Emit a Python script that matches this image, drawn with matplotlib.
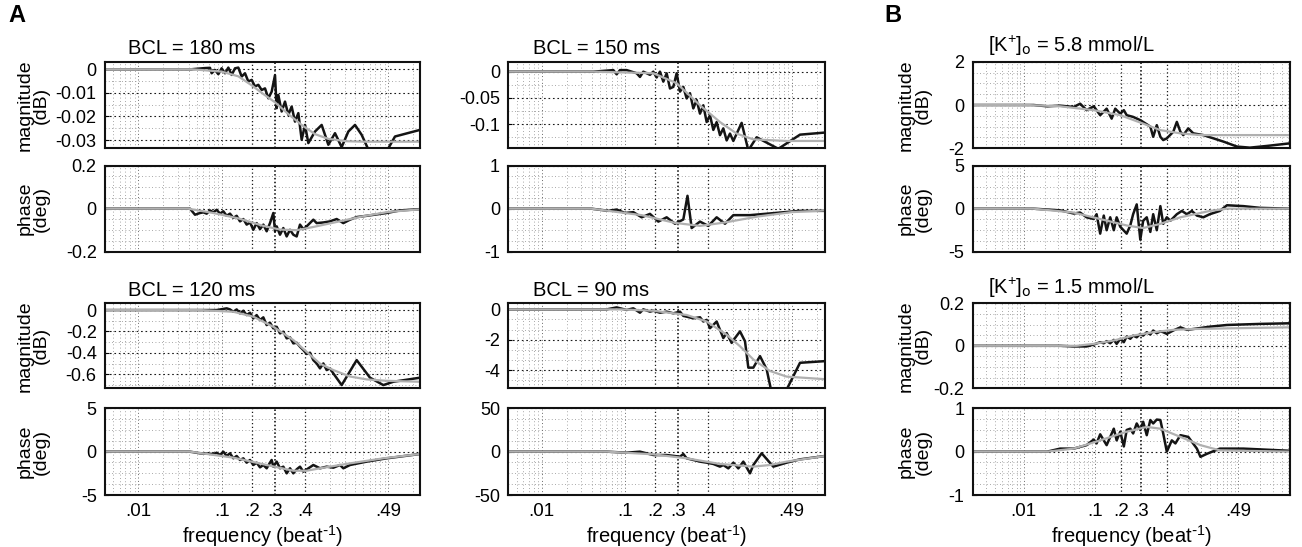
import numpy as np
import matplotlib
matplotlib.use('Agg')
import matplotlib.pyplot as plt
from matplotlib.ticker import FixedLocator, FixedFormatter, NullLocator, NullFormatter, MultipleLocator

plt.rcParams['font.family'] = ['Liberation Sans', 'DejaVu Sans']
plt.rcParams['axes.unicode_minus'] = False
plt.rcParams['mathtext.default'] = 'regular'

# ---------------- data (x = log10 frequency, as placed on the log axis) ----------------
# Panel A, BCL = 180 ms
a180_mag_x = [-2.40, -1.36, -1.20, -1.14, -1.12, -1.08, -1.04, -1.00, -0.96, -0.92, -0.88, -0.84, -0.80, -0.76, -0.72,
              -0.68, -0.64, -0.60, -0.56, -0.52, -0.48, -0.44, -0.40, -0.36, -0.34, -0.32, -0.28, -0.24, -0.20, -0.16,
              -0.12, -0.08, -0.04, 0.00, 0.04, 0.12, 0.20, 0.28, 0.36, 0.44, 0.52, 0.60, 0.68, 0.76, 0.84, 0.96, 1.08, 1.38]
a180_mag_y = [0, 0, 0.0005, 0.0006, -0.0017, -0.0003, -0.0021, 0.0004, -0.0017, 0.0007, -0.0024, 0.0004, 0.0007, -0.0031,
              -0.0017, -0.0052, -0.0045, -0.0073, -0.0066, -0.0088, -0.0081, -0.0123, -0.0095, -0.0025, -0.0165, -0.0109,
              -0.0179, -0.0137, -0.0193, -0.0158, -0.0222, -0.0186, -0.0299, -0.0236, -0.0313, -0.0264, -0.0236, -0.0320,
              -0.0271, -0.0330, -0.0264, -0.0236, -0.0278, -0.034, -0.038, -0.036, -0.0285, -0.0257]
a180_mag_fit_x = [-2.40, -1.36, -1.00, -0.80, -0.64, -0.50, -0.36, -0.20, -0.04, 0.12, 0.28, 0.50, 0.70, 1.38]
a180_mag_fit_y = [0, 0, -0.001, -0.003, -0.0068, -0.0105, -0.0140, -0.0190, -0.0236, -0.0275, -0.0295, -0.0305, -0.0307, -0.0307]

a180_ph_x = [-2.40, -1.38, -1.32, -1.26, -1.22, -1.18, -1.14, -1.10, -1.06, -1.02, -0.98, -0.94, -0.90, -0.86, -0.82,
             -0.78, -0.74, -0.70, -0.66, -0.62, -0.58, -0.54, -0.50, -0.46, -0.42, -0.38, -0.36, -0.34, -0.30, -0.26,
             -0.22, -0.18, -0.14, -0.10, -0.06, -0.02, 0.02, 0.10, 0.14, 0.22, 0.30, 0.38, 0.46, 0.54, 0.62, 0.74, 0.98, 1.14, 1.38]
a180_ph_y = [0, 0, -0.028, -0.020, -0.017, -0.023, -0.008, -0.017, -0.005, -0.023, -0.012, -0.033, -0.023, -0.043, -0.033,
             -0.059, -0.048, -0.074, -0.064, -0.098, -0.067, -0.095, -0.074, -0.105, -0.067, -0.020, -0.105, -0.082, -0.121,
             -0.090, -0.129, -0.098, -0.121, -0.129, -0.074, -0.095, -0.082, -0.051, -0.067, -0.064, -0.059, -0.048, -0.067,
             -0.051, -0.039, -0.033, -0.020, -0.008, -0.002]
a180_ph_fit_x = [-2.40, -1.40, -1.10, -0.80, -0.50, -0.30, -0.10, 0.10, 0.40, 0.70, 1.00, 1.38]
a180_ph_fit_y = [0, 0, -0.02, -0.045, -0.08, -0.097, -0.1, -0.085, -0.06, -0.035, -0.015, -0.003]

# Panel A, BCL = 150 ms
a150_mag_x = [-2.40, -1.38, -1.14, -1.10, -1.06, -0.98, -0.86, -0.82, -0.78, -0.70, -0.66, -0.62, -0.58, -0.54, -0.50,
              -0.46, -0.42, -0.38, -0.34, -0.30, -0.26, -0.22, -0.18, -0.14, -0.10, -0.06, -0.02, 0.02, 0.06, 0.10,
              0.14, 0.18, 0.22, 0.26, 0.30, 0.40, 0.48, 0.58, 0.84, 1.10, 1.40]
a150_mag_y = [0, 0, 0.003, -0.005, 0.003, 0.003, -0.003, -0.010, 0.0, -0.006, 0.0, -0.011, 0.0, -0.019, -0.003,
              -0.032, -0.029, -0.003, -0.038, -0.029, -0.051, -0.041, -0.070, -0.054, -0.080, -0.064, -0.096, -0.083,
              -0.111, -0.096, -0.121, -0.108, -0.131, -0.118, -0.132, -0.0975, -0.15, -0.125, -0.147, -0.120, -0.116]
a150_mag_fit_x = [-2.40, -1.38, -0.66, -0.38, -0.10, 0.14, 0.34, 0.54, 0.94, 1.40]
a150_mag_fit_y = [0, 0, -0.003, -0.022, -0.064, -0.096, -0.118, -0.129, -0.132, -0.132]

a150_ph_x = [-2.40, -1.40, -1.20, -1.10, -1.00, -0.90, -0.80, -0.70, -0.60, -0.50, -0.40, -0.30, -0.25, -0.20, -0.10,
             0.00, 0.10, 0.20, 0.30, 0.50, 0.80, 1.10, 1.40]
a150_ph_y = [0, 0, -0.05, -0.02, -0.10, -0.08, -0.20, -0.12, -0.30, -0.20, -0.35, -0.25, 0.30, -0.45, -0.30,
             -0.40, -0.20, -0.35, -0.15, -0.15, -0.10, -0.05, -0.05]
a150_ph_fit_x = [-2.40, -1.40, -0.80, -0.40, -0.10, 0.20, 0.60, 1.00, 1.40]
a150_ph_fit_y = [0, 0, -0.15, -0.33, -0.40, -0.32, -0.18, -0.08, -0.04]

# Panel A, BCL = 120 ms
a120_mag_x = [-2.40, -1.06, -0.94, -0.90, -0.86, -0.82, -0.78, -0.74, -0.70, -0.66, -0.62, -0.58, -0.54, -0.50, -0.46,
              -0.42, -0.38, -0.34, -0.30, -0.26, -0.22, -0.18, -0.14, -0.10, -0.06, -0.02, 0.02, 0.06, 0.10, 0.14,
              0.18, 0.22, 0.26, 0.30, 0.34, 0.44, 0.62, 0.78, 0.94, 1.06, 1.38]
a120_mag_y = [0, 0, 0.016, 0.006, -0.016, 0.006, -0.031, -0.006, -0.047, -0.025, -0.078, -0.047, -0.093, -0.068, -0.14,
              -0.118, -0.171, -0.156, -0.218, -0.202, -0.264, -0.255, -0.311, -0.305, -0.342, -0.373, -0.41, -0.398,
              -0.467, -0.498, -0.544, -0.498, -0.56, -0.544, -0.591, -0.70, -0.467, -0.631, -0.70, -0.669, -0.631]
a120_mag_fit_x = [-2.40, -1.26, -0.86, -0.62, -0.38, -0.14, 0.02, 0.18, 0.34, 0.54, 0.74, 0.98, 1.38]
a120_mag_fit_y = [0, 0, -0.016, -0.062, -0.156, -0.28, -0.39, -0.50, -0.56, -0.62, -0.647, -0.66, -0.669]

a120_ph_x = [-2.40, -1.38, -1.26, -1.10, -1.06, -1.02, -0.98, -0.94, -0.90, -0.86, -0.82, -0.78, -0.74, -0.70, -0.66,
             -0.62, -0.58, -0.54, -0.50, -0.46, -0.42, -0.40, -0.38, -0.34, -0.30, -0.26, -0.22, -0.18, -0.14, -0.10,
             -0.06, -0.02, 0.10, 0.18, 0.26, 0.34, 0.42, 0.46, 0.54, 0.74, 0.98, 1.38]
a120_ph_y = [0, 0, -0.19, -0.27, -0.12, -0.38, 0.0, -0.5, -0.19, -0.77, -0.5, -0.96, -0.77, -1.27, -0.96,
             -1.54, -1.27, -1.81, -1.54, -1.92, -1.27, -0.96, -1.73, -1.15, -1.92, -1.73, -2.5, -1.92, -2.5, -2.04,
             -1.73, -2.31, -1.54, -1.92, -1.73, -1.85, -1.54, -1.92, -1.54, -1.15, -0.77, -0.27]
a120_ph_fit_x = [-2.40, -1.38, -0.86, -0.46, -0.14, 0.02, 0.18, 0.54, 0.94, 1.38]
a120_ph_fit_y = [0, 0, -0.69, -1.54, -2.2, -2.2, -1.92, -1.35, -0.77, -0.27]

# Panel A, BCL = 90 ms
a90_mag_x = [-2.40, -1.22, -1.10, -0.98, -0.90, -0.82, -0.78, -0.70, -0.66, -0.58, -0.50, -0.42, -0.34, -0.30, -0.26,
             -0.18, -0.10, -0.06, -0.02, 0.02, 0.06, 0.10, 0.14, 0.18, 0.22, 0.28, 0.32, 0.38, 0.44, 0.48,
             0.54, 0.62, 0.70, 0.76, 0.92, 1.10, 1.40]
a90_mag_y = [0, 0, 0.13, -0.04, 0.07, -0.22, 0.0, -0.15, -0.09, -0.22, -0.15, -0.26, -0.15, -0.43, -0.48,
             -0.59, -0.52, -0.80, -0.69, -1.24, -1.02, -0.80, -1.35, -1.89, -1.56, -2.21, -1.89, -1.45, -2.10, -3.84,
             -3.84, -3.08, -3.95, -5.5, -5.5, -3.52, -3.41]
a90_mag_fit_x = [-2.40, -1.06, -0.66, -0.26, -0.02, 0.22, 0.38, 0.54, 0.74, 0.94, 1.40]
a90_mag_fit_y = [0, 0, -0.09, -0.37, -0.8, -1.67, -2.43, -3.3, -4.06, -4.43, -4.6]

a90_ph_x = [-2.40, -1.22, -0.98, -0.82, -0.66, -0.50, -0.34, -0.30, -0.26, -0.18, -0.10, -0.02, 0.06, 0.14, 0.18,
            0.24, 0.30, 0.36, 0.42, 0.50, 0.54, 0.64, 0.78, 0.94, 1.10, 1.40]
a90_ph_y = [0, 0, -1.2, 0, -3.9, -3.9, -5.8, -2.7, -7.7, -9.6, -11.5, -12.7, -14.2, -17.3, -15.4,
            -19.3, -12.7, -19.3, -11.5, -25, -15.4, -1.9, -17.3, -12.7, -8.9, -5.0]
a90_ph_fit_x = [-2.40, -1.22, -0.66, -0.26, 0.14, 0.54, 0.74, 0.94, 1.40]
a90_ph_fit_y = [0, 0, -3.1, -7.7, -14.2, -17.3, -15.4, -11.5, -5.0]

# Panel B, [K+]o = 5.8 mmol/L
b58_mag_x = [-2.71, -1.86, -1.67, -1.49, -1.30, -1.21, -1.12, -1.02, -0.93, -0.84, -0.77, -0.72, -0.65, -0.60, -0.56,
             -0.47, -0.37, -0.28, -0.23, -0.19, -0.14, -0.09, -0.05, 0.00, 0.09, 0.14, 0.19, 0.23, 0.30, 0.37,
             0.51, 0.65, 0.79, 0.98, 1.16, 1.40, 1.72]
b58_mag_y = [0, 0, -0.06, -0.03, -0.09, 0.06, -0.24, -0.06, -0.47, -0.17, -0.63, -0.17, -0.40, -0.24, -0.47,
             -0.55, -0.70, -0.89, -1.0, -1.47, -0.93, -1.47, -1.62, -1.54, -1.24, -0.78, -1.24, -1.39, -1.08, -1.31,
             -1.39, -1.54, -1.69, -1.92, -1.97, -1.89, -1.77]
b58_mag_fit_x = [-2.71, -1.95, -1.49, -1.02, -0.65, -0.33, -0.09, 0.19, 0.47, 1.72]
b58_mag_fit_y = [0, 0, -0.06, -0.24, -0.47, -0.86, -1.16, -1.31, -1.39, -1.39]

b58_ph_x = [-2.71, -1.86, -1.49, -1.30, -1.21, -1.12, -1.02, -0.98, -0.93, -0.88, -0.84, -0.79, -0.74, -0.70, -0.65,
            -0.56, -0.51, -0.47, -0.42, -0.37, -0.33, -0.28, -0.23, -0.19, -0.14, -0.09, -0.05, 0.00, 0.05, 0.14,
            0.21, 0.28, 0.35, 0.42, 0.51, 0.60, 0.74, 0.84, 1.07, 1.30, 1.72]
b58_ph_y = [0, 0, -0.19, -0.56, -0.45, -1.0, -1.2, -0.64, -2.9, -0.8, -2.5, -1.0, -2.5, -1.0, -2.1,
            -2.9, -1.95, -0.64, 0.5, -3.6, -1.4, -1.0, -2.7, -0.64, -2.5, 0.3, -1.76, -1.0, -1.4, -0.64,
            -0.26, -0.64, -0.26, -0.8, -1.0, -0.64, -0.26, 0.4, 0.3, 0.1, 0.0]
b58_ph_fit_x = [-2.71, -1.86, -1.30, -0.93, -0.56, -0.33, -0.09, 0.19, 0.60, 0.84, 1.72]
b58_ph_fit_y = [0, 0, -0.45, -1.2, -1.95, -2.25, -1.76, -1.0, -0.26, 0, 0]

# Panel B, [K+]o = 1.5 mmol/L
b15_mag_x = [-2.71, -1.49, -1.30, -1.12, -1.02, -0.93, -0.88, -0.84, -0.79, -0.74, -0.70, -0.65, -0.60, -0.56, -0.51,
             -0.47, -0.42, -0.37, -0.33, -0.28, -0.23, -0.19, -0.14, -0.09, -0.05, 0.00, 0.09, 0.19, 0.28, 0.37,
             0.60, 0.84, 1.30, 1.72]
b15_mag_y = [0, 0, -0.003, -0.003, 0.006, 0.017, 0.012, 0.022, 0.012, 0.028, 0.009, 0.033, 0.017, 0.044, 0.033,
             0.048, 0.040, 0.056, 0.048, 0.064, 0.053, 0.072, 0.059, 0.068, 0.064, 0.056, 0.072, 0.087, 0.075, 0.079,
             0.090, 0.098, 0.103, 0.106]
b15_mag_fit_x = [-2.71, -1.26, -1.02, -0.74, -0.47, -0.19, 0.09, 0.37, 0.84, 1.72]
b15_mag_fit_y = [0, 0, 0.009, 0.025, 0.048, 0.064, 0.075, 0.079, 0.082, 0.087]

b15_ph_x = [-2.71, -1.67, -1.49, -1.30, -1.21, -1.12, -1.02, -0.98, -0.93, -0.88, -0.84, -0.79, -0.74, -0.70, -0.65,
            -0.60, -0.56, -0.51, -0.47, -0.42, -0.37, -0.33, -0.28, -0.23, -0.19, -0.14, -0.09, -0.05, 0.00, 0.07,
            0.12, 0.19, 0.30, 0.42, 0.47, 0.56, 0.74, 1.07, 1.72]
b15_ph_y = [0, 0, 0.07, 0.07, 0.11, 0.15, 0.28, 0.19, 0.40, 0.26, 0.15, 0.34, 0.53, 0.26, 0.46,
            0.12, 0.50, 0.53, 0.42, 0.65, 0.50, 0.69, 0.38, 0.73, 0.65, 0.74, 0.73, 0.42, 0.0, 0.26,
            0.19, 0.38, 0.34, 0.07, -0.12, -0.05, 0.07, 0.07, 0.02]
b15_ph_fit_x = [-2.71, -1.67, -1.30, -0.93, -0.56, -0.28, -0.09, 0.19, 0.47, 0.74, 1.72]
b15_ph_fit_y = [0, 0, 0.07, 0.26, 0.46, 0.57, 0.53, 0.34, 0.15, 0.03, 0.0]

# tick positions on the frequency axis (log10 units) and their labels
freq_tick_pos = [-2.0, -1.0, -0.64, -0.36, 0.0, 1.0]
freq_tick_lab = ['.01', '.1', '.2', '.3', '.4', '.49']

titles = ['BCL = 180 ms', 'BCL = 150 ms', 'BCL = 120 ms', 'BCL = 90 ms',
          r'[K$^{+}$]$_{\rm o}$ = 5.8 mmol/L', r'[K$^{+}$]$_{\rm o}$ = 1.5 mmol/L']

# ---------------- layout ----------------
W, H = 1302, 547
fig = plt.figure(figsize=(W / 100, H / 100), dpi=100)

col_left = [105, 508.3, 972.7]
col_w = [315, 316.7, 317.3]
row_tb = [(61.7, 148.3), (165.7, 251.7), (303.3, 388.3), (408.3, 495.0)]
col_xlim = [(-2.40, 1.38), (-2.40, 1.40), (-2.71, 1.72)]

# (col, row, black x, black y, fit x, fit y, ylim, yticks, yticklabels, minor step, title)
panels = [
    (0, 0, a180_mag_x, a180_mag_y, a180_mag_fit_x, a180_mag_fit_y, (-0.0335, 0.0032), [0, -0.01, -0.02, -0.03],
     ['0', '-0.01', '-0.02', '-0.03'], 0.005, titles[0]),
    (0, 1, a180_ph_x, a180_ph_y, a180_ph_fit_x, a180_ph_fit_y, (-0.2, 0.2), [0.2, 0, -0.2], ['0.2', '0', '-0.2'], 0.05, None),
    (1, 0, a150_mag_x, a150_mag_y, a150_mag_fit_x, a150_mag_fit_y, (-0.146, 0.019), [0, -0.05, -0.1],
     ['0', '-0.05', '-0.1'], 0.025, titles[1]),
    (1, 1, a150_ph_x, a150_ph_y, a150_ph_fit_x, a150_ph_fit_y, (-1, 1), [1, 0, -1], ['1', '0', '-1'], 0.25, None),
    (0, 2, a120_mag_x, a120_mag_y, a120_mag_fit_x, a120_mag_fit_y, (-0.73, 0.063), [0, -0.2, -0.4, -0.6],
     ['0', '-0.2', '-0.4', '-0.6'], 0.1, titles[2]),
    (0, 3, a120_ph_x, a120_ph_y, a120_ph_fit_x, a120_ph_fit_y, (-5, 5), [5, 0, -5], ['5', '0', '-5'], 1.25, None),
    (1, 2, a90_mag_x, a90_mag_y, a90_mag_fit_x, a90_mag_fit_y, (-5.2, 0.4), [0, -2, -4], ['0', '-2', '-4'], 2 / 3, titles[3]),
    (1, 3, a90_ph_x, a90_ph_y, a90_ph_fit_x, a90_ph_fit_y, (-50, 50), [50, 0, -50], ['50', '0', '-50'], 12.5, None),
    (2, 0, b58_mag_x, b58_mag_y, b58_mag_fit_x, b58_mag_fit_y, (-2, 2), [2, 0, -2], ['2', '0', '-2'], 0.5, titles[4]),
    (2, 1, b58_ph_x, b58_ph_y, b58_ph_fit_x, b58_ph_fit_y, (-5, 5), [5, 0, -5], ['5', '0', '-5'], 1.25, None),
    (2, 2, b15_mag_x, b15_mag_y, b15_mag_fit_x, b15_mag_fit_y, (-0.2, 0.2), [0.2, 0, -0.2], ['0.2', '0', '-0.2'], 0.05, titles[5]),
    (2, 3, b15_ph_x, b15_ph_y, b15_ph_fit_x, b15_ph_fit_y, (-1, 1), [1, 0, -1], ['1', '0', '-1'], 0.25, None),
]

title_dx = [0.073, 0.079, 0.048]
ylab_dx = [-72 / 315, None, -58 / 317]

for (c, r, bx, by, gx, gy, ylim, yt, ytl, ystep, title) in panels:
    top, bot = row_tb[r]
    ax = fig.add_axes([col_left[c] / W, 1 - bot / H, col_w[c] / W, (bot - top) / H])
    ax.set_xscale('log')
    lo, hi = col_xlim[c]
    ax.set_xlim(10 ** lo, 10 ** hi)
    ax.set_ylim(*ylim)

    # vertical grid: log-decade minor lines (none inside the .1-.4 decade) and the labelled frequencies
    for dec in range(-4, 3):
        if dec == -1:
            continue
        for k in range(2, 10):
            v = k * 10.0 ** dec
            if 10 ** lo < v < 10 ** hi:
                ax.axvline(v, color='0.55', lw=0.6, ls=(0, (1, 3)), zorder=0.5)
    for p, lab in zip(freq_tick_pos, freq_tick_lab):
        if lab in ('.2', '.4'):
            ax.axvline(10 ** p, color='0.1', lw=0.9, ls=(0, (1, 2)), zorder=0.6)
        elif lab == '.3':
            ax.axvline(10 ** p, color='black', lw=1.1, ls=(0, (1, 1.5)), zorder=0.6)
        else:
            ax.axvline(10 ** p, color='0.4', lw=0.7, ls=(0, (1, 2.5)), zorder=0.6)

    ax.xaxis.set_major_locator(FixedLocator([10 ** p for p in freq_tick_pos]))
    ax.xaxis.set_major_formatter(FixedFormatter(freq_tick_lab))
    ax.xaxis.set_minor_locator(NullLocator())
    ax.xaxis.set_minor_formatter(NullFormatter())
    ax.tick_params(axis='x', which='major', direction='in', length=0, pad=6, labelsize=13.5,
                   labelbottom=(r == 3))

    ax.yaxis.set_major_locator(FixedLocator(yt))
    ax.yaxis.set_major_formatter(FixedFormatter(ytl))
    ax.yaxis.set_minor_locator(MultipleLocator(ystep))
    ax.tick_params(axis='y', which='major', direction='in', length=3, pad=6, labelsize=13)
    ax.tick_params(axis='y', which='minor', length=0)
    ax.grid(axis='y', which='major', color='0.1', lw=0.8, ls=(0, (1.5, 2.5)))
    ax.grid(axis='y', which='minor', color='0.55', lw=0.6, ls=(0, (1, 3)))
    ax.set_axisbelow(True)

    ax.plot([10 ** v for v in bx], by, color='#141414', lw=1.8, zorder=3, solid_joinstyle='round')
    ax.plot([10 ** v for v in gx], gy, color='#b0b0b0', lw=1.6, zorder=4)

    for s in ax.spines.values():
        s.set_linewidth(1.5)
        s.set_color('#111111')
        s.set_zorder(5)

    if title:
        ax.text(title_dx[c], 1.04, title, transform=ax.transAxes, ha='left', va='bottom', fontsize=14.5)

    if ylab_dx[c] is not None:
        lab = 'magnitude\n(dB)' if r in (0, 2) else 'phase\n(deg)'
        ax.set_ylabel(lab, fontsize=14, va='center', linespacing=0.95)
        ax.yaxis.set_label_coords(ylab_dx[c], 0.5)

    if r == 3:
        ax.set_xlabel(r'frequency (beat$^{\text{-}1}$)', fontsize=14.5, labelpad=2)

fig.text(8 / W, 1 - 22 / H, 'A', fontsize=17, fontweight='bold', ha='left', va='baseline')
fig.text(884 / W, 1 - 22 / H, 'B', fontsize=17, fontweight='bold', ha='left', va='baseline')

fig.savefig('out.png', dpi=100)
